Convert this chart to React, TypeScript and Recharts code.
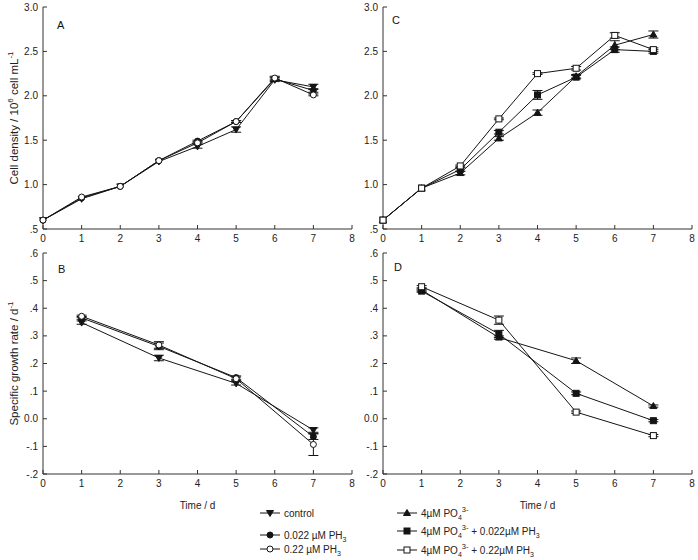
import React from 'react';
import { LineChart, Line, XAxis, YAxis, ErrorBar } from 'recharts';

const FONT = '"Liberation Sans", Arial, sans-serif';
const INK = '#141414';
const AXIS = '#333';

// ---- data ----
const densityDays = [0, 1, 2, 3, 4, 5, 6, 7];
const densityControl = [0.6, 0.84, 0.98, 1.26, 1.43, 1.62, 2.18, 2.1];
const densityControlErr = [0, 0, 0, 0, 0.02, 0.03, 0.02, 0.03];
const densityPh3Low = [0.6, 0.85, 0.98, 1.27, 1.49, 1.71, 2.19, 2.06];
const densityPh3LowErr = [0, 0, 0, 0, 0.01, 0.01, 0.02, 0.02];
const densityPh3High = [0.6, 0.86, 0.98, 1.27, 1.47, 1.71, 2.2, 2.01];
const densityPh3HighErr = [0, 0, 0, 0, 0.01, 0.01, 0.02, 0.01];

const densityPo4 = [0.6, 0.96, 1.13, 1.52, 1.81, 2.22, 2.57, 2.69];
const densityPo4Err = [0, 0, 0.02, 0.02, 0.03, 0.02, 0.05, 0.04];
const densityPo4Low = [0.6, 0.96, 1.17, 1.59, 2.01, 2.21, 2.52, 2.5];
const densityPo4LowErr = [0, 0, 0.02, 0.02, 0.05, 0.02, 0.03, 0.02];
const densityPo4High = [0.6, 0.96, 1.21, 1.74, 2.25, 2.31, 2.68, 2.52];
const densityPo4HighErr = [0, 0, 0.01, 0.01, 0.01, 0.02, 0.03, 0.02];

const rateDays = [1, 3, 5, 7];
const rateControl = [0.348, 0.22, 0.128, -0.041];
const rateControlErr = [0.006, 0.01, 0.006, 0.008];
const ratePh3Low = [0.365, 0.262, 0.149, -0.065];
const ratePh3LowErr = [0.005, 0.012, 0.006, 0.01];
const ratePh3High = [0.371, 0.267, 0.145, -0.093];
const ratePh3HighErr = [0.004, 0.012, 0.006, 0.04];

const ratePo4 = [0.466, 0.294, 0.21, 0.046];
const ratePo4Err = [0.004, 0.006, 0.01, 0.004];
const ratePo4Low = [0.462, 0.307, 0.092, -0.007];
const ratePo4LowErr = [0.004, 0.013, 0.005, 0.004];
const ratePo4High = [0.478, 0.357, 0.024, -0.061];
const ratePo4HighErr = [0.004, 0.015, 0.004, 0.004];

const xTicks = [0, 1, 2, 3, 4, 5, 6, 7, 8];
const densityTicks = [0.5, 1, 1.5, 2, 2.5, 3];
const densityTickLabels = ['.5', '1.0', '1.5', '2.0', '2.5', '3.0'];
const rateTicks = [-0.2, -0.1, 0, 0.1, 0.2, 0.3, 0.4, 0.5, 0.6];
const rateTickLabels = ['-.2', '-.1', '0.0', '.1', '.2', '.3', '.4', '.5', '.6'];

const nz = (v: number) => (v > 0 ? v : undefined);

const densityPh3Data = densityDays.map((d, i) => ({
  day: d,
  control: densityControl[i],
  controlErr: nz(densityControlErr[i]),
  low: densityPh3Low[i],
  lowErr: nz(densityPh3LowErr[i]),
  high: densityPh3High[i],
  highErr: nz(densityPh3HighErr[i]),
}));
const densityPo4Data = densityDays.map((d, i) => ({
  day: d,
  control: densityPo4[i],
  controlErr: nz(densityPo4Err[i]),
  low: densityPo4Low[i],
  lowErr: nz(densityPo4LowErr[i]),
  high: densityPo4High[i],
  highErr: nz(densityPo4HighErr[i]),
}));
const ratePh3Data = rateDays.map((d, i) => ({
  day: d,
  control: rateControl[i],
  controlErr: nz(rateControlErr[i]),
  low: ratePh3Low[i],
  lowErr: nz(ratePh3LowErr[i]),
  high: ratePh3High[i],
  highErr: nz(ratePh3HighErr[i]),
}));
const ratePo4Data = rateDays.map((d, i) => ({
  day: d,
  control: ratePo4[i],
  controlErr: nz(ratePo4Err[i]),
  low: ratePo4Low[i],
  lowErr: nz(ratePo4LowErr[i]),
  high: ratePo4High[i],
  highErr: nz(ratePo4HighErr[i]),
}));

type Shape = 'down' | 'up' | 'circle' | 'square';

const Marker = ({ cx, cy, shape, filled }: { cx: number; cy: number; shape: Shape; filled: boolean }) => {
  const fill = filled ? INK : '#fff';
  if (shape === 'circle') return <circle cx={cx} cy={cy} r={3} fill={fill} stroke={INK} strokeWidth={1} />;
  if (shape === 'square')
    return <rect x={cx - 3} y={cy - 3} width={6} height={6} fill={fill} stroke={INK} strokeWidth={1} />;
  const d =
    shape === 'down'
      ? `M${cx - 3.5},${cy - 2.5}L${cx + 3.5},${cy - 2.5}L${cx},${cy + 3.5}Z`
      : `M${cx - 3.5},${cy + 2.5}L${cx + 3.5},${cy + 2.5}L${cx},${cy - 3.5}Z`;
  return <path d={d} fill={fill} stroke={INK} strokeWidth={1} />;
};

type SeriesDef = { key: string; shape: Shape; filled: boolean };

const ph3Series: SeriesDef[] = [
  { key: 'control', shape: 'down', filled: true },
  { key: 'low', shape: 'circle', filled: true },
  { key: 'high', shape: 'circle', filled: false },
];
const po4Series: SeriesDef[] = [
  { key: 'control', shape: 'up', filled: true },
  { key: 'low', shape: 'square', filled: true },
  { key: 'high', shape: 'square', filled: false },
];

const tickStyle = { fontSize: 10, fill: '#222', fontFamily: FONT };

const YTitle = ({ viewBox, kind }: any) => {
  const cy = viewBox.y + viewBox.height / 2;
  const x = 18;
  return (
    <text
      x={x}
      y={cy}
      transform={`rotate(-90, ${x}, ${cy})`}
      textAnchor="middle"
      fontSize={11.5}
      fill="#222"
      fontFamily={FONT}
    >
      {kind === 'density' ? (
        <>
          <tspan>Cell density / 10</tspan>
          <tspan dy={-5} fontSize={8}>6</tspan>
          <tspan dy={5}> cell mL</tspan>
          <tspan dy={-5} fontSize={8}>-1</tspan>
        </>
      ) : (
        <>
          <tspan>Specific growth rate / d</tspan>
          <tspan dy={-5} fontSize={8}>-1</tspan>
        </>
      )}
    </text>
  );
};

type PanelProps = {
  left: number;
  top: number;
  width: number;
  height: number;
  data: any[];
  series: SeriesDef[];
  yTicks: number[];
  yLabels: string[];
  xAxisHeight: number;
  marginRight: number;
  yTitle?: 'density' | 'rate';
  xTitle?: boolean;
};

const Panel = (p: PanelProps) => (
  <div style={{ position: 'absolute', left: p.left, top: p.top }}>
    <LineChart
      width={p.width}
      height={p.height}
      data={p.data}
      margin={{ top: 7, right: p.marginRight, bottom: 0, left: 0 }}
    >
      <XAxis
        dataKey="day"
        type="number"
        domain={[0, 8]}
        ticks={xTicks}
        height={p.xAxisHeight}
        tickSize={-4}
        tickMargin={10}
        tick={tickStyle}
        stroke={AXIS}
        label={
          p.xTitle
            ? { value: 'Time / d', position: 'insideBottom', offset: 1, fontSize: 10, fill: '#222', fontFamily: FONT }
            : undefined
        }
      />
      <XAxis xAxisId="top" orientation="top" type="number" domain={[0, 8]} height={0} tick={false} tickLine={false} stroke={AXIS} />
      <YAxis
        type="number"
        domain={[p.yTicks[0], p.yTicks[p.yTicks.length - 1]]}
        ticks={p.yTicks}
        tickFormatter={(v: number) => p.yLabels[p.yTicks.findIndex((t) => Math.abs(t - v) < 1e-9)]}
        width={43}
        tickSize={-4}
        tickMargin={9}
        tick={tickStyle}
        stroke={AXIS}
        interval={0}
        label={p.yTitle ? { content: (lp: any) => <YTitle {...lp} kind={p.yTitle} /> } : undefined}
      />
      <YAxis yAxisId="right" orientation="right" type="number" domain={[0, 1]} width={0} tick={false} tickLine={false} stroke={AXIS} />
      {p.series.map((s) => (
        <Line
          key={s.key}
          dataKey={s.key}
          stroke={INK}
          strokeWidth={1}
          isAnimationActive={false}
          activeDot={false}
          dot={(d: any) => (
            <Marker key={`${s.key}-${d.index}`} cx={d.cx} cy={d.cy} shape={s.shape} filled={s.filled} />
          )}
        >
          <ErrorBar dataKey={`${s.key}Err`} direction="y" width={5} stroke={INK} strokeWidth={1} />
        </Line>
      ))}
    </LineChart>
  </div>
);

const LegendItem = ({ x, y, shape, filled, children }: any) => (
  <g>
    <line x1={x} y1={y} x2={x + 20} y2={y} stroke={INK} strokeWidth={1} />
    <Marker cx={x + 10} cy={y} shape={shape} filled={filled} />
    <text x={x + 24} y={y + 3.5} fontSize={10} fill="#222" fontFamily={FONT}>
      {children}
    </text>
  </g>
);

const Po4 = () => (
  <>
    <tspan>4µM PO</tspan>
    <tspan dy={3} fontSize={7}>4</tspan>
    <tspan dy={-8} fontSize={7.5}>3-</tspan>
  </>
);

export default function App() {
  return (
    <div
      style={{
        position: 'fixed',
        left: 0,
        top: 0,
        width: 698,
        height: 560,
        background: '#fff',
        fontFamily: FONT,
        overflow: 'hidden',
      }}
    >
      <Panel left={0} top={0} width={360} height={250} data={densityPh3Data} series={ph3Series}
        yTicks={densityTicks} yLabels={densityTickLabels} xAxisHeight={21} marginRight={8} yTitle="density" />
      <Panel left={340} top={0} width={358} height={250} data={densityPo4Data} series={po4Series}
        yTicks={densityTicks} yLabels={densityTickLabels} xAxisHeight={21} marginRight={6} />
      <Panel left={0} top={246} width={360} height={264} data={ratePh3Data} series={ph3Series}
        yTicks={rateTicks} yLabels={rateTickLabels} xAxisHeight={36} marginRight={8} yTitle="rate" xTitle />
      <Panel left={340} top={246} width={358} height={264} data={ratePo4Data} series={po4Series}
        yTicks={rateTicks} yLabels={rateTickLabels} xAxisHeight={36} marginRight={6} xTitle />

      <svg width={698} height={560} style={{ position: 'absolute', left: 0, top: 0, pointerEvents: 'none' }}>
        <g fontSize={11} fill="#111" fontFamily={FONT}>
          <text x={57} y={29}>A</text>
          <text x={58} y={273}>B</text>
          <text x={392} y={24}>C</text>
          <text x={394} y={271}>D</text>
        </g>

        <LegendItem x={260} y={513} shape="down" filled>control</LegendItem>
        <LegendItem x={260} y={535} shape="circle" filled>
          <tspan>0.022 µM PH</tspan>
          <tspan dy={3} fontSize={7}>3</tspan>
        </LegendItem>
        <LegendItem x={260} y={549} shape="circle" filled={false}>
          <tspan>0.22 µM PH</tspan>
          <tspan dy={3} fontSize={7}>3</tspan>
        </LegendItem>

        <LegendItem x={397} y={513} shape="up" filled>
          <Po4 />
        </LegendItem>
        <LegendItem x={397} y={531} shape="square" filled>
          <Po4 />
          <tspan dy={5}> + 0.022µM PH</tspan>
          <tspan dy={3} fontSize={7}>3</tspan>
        </LegendItem>
        <LegendItem x={397} y={550} shape="square" filled={false}>
          <Po4 />
          <tspan dy={5}> + 0.22µM PH</tspan>
          <tspan dy={3} fontSize={7}>3</tspan>
        </LegendItem>
      </svg>
    </div>
  );
}
